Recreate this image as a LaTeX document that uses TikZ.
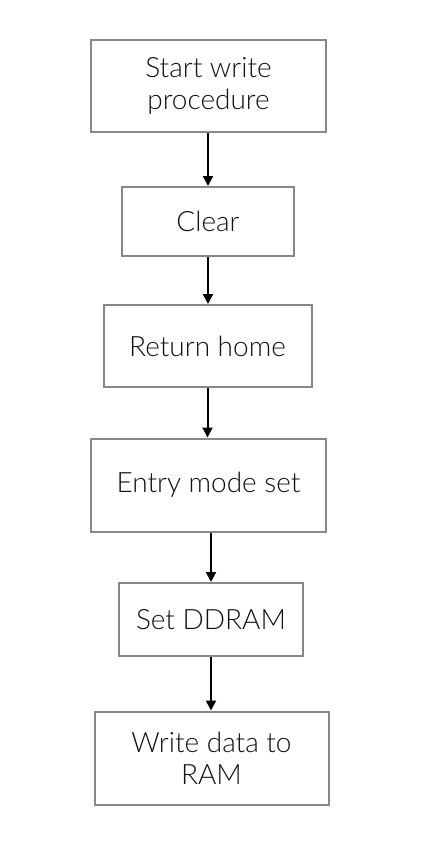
\documentclass[tikz,border=0pt]{standalone}
\usepackage{fontspec}
\setmainfont{Lato Light}
\usepackage{xcolor}
\usepackage{tikz}
\usetikzlibrary{positioning,arrows.meta}

\definecolor{boxgray}{HTML}{888888}
\definecolor{txt}{HTML}{111111}

\begin{document}
\begin{tikzpicture}[x=1pt,y=-1pt,
  box/.style={draw=boxgray, line width=2pt, text=txt, align=center, inner sep=0pt,
    font=\fontsize{28}{32}\selectfont},
  arr/.style={-{Triangle[length=10pt,width=10pt]}, line width=2pt, black}]
\useasboundingbox (0,0) rectangle (436,867);

% Boxes
\node[box, minimum width=235pt, minimum height=92pt] (S) at (208.5,86) {Start write\\procedure};
\node[box, minimum width=172pt, minimum height=69pt] (C) at (208,221.5) {Clear};
\node[box, minimum width=208pt, minimum height=82pt] (R) at (207.5,346) {Return home};
\node[box, minimum width=235pt, minimum height=93pt] (E) at (208.5,485) {Entry mode set};
\node[box, minimum width=184pt, minimum height=73pt] (D) at (211,619.5) {Set DDRAM};
\node[box, minimum width=234pt, minimum height=93pt] (W) at (211.5,758) {Write data to\\RAM};

% Arrows
\draw[arr] (S.south -| C.north) -- (C.north);
\draw[arr] (C.south) -- (R.north -| C.south);
\draw[arr] (R.south) -- (E.north -| R.south);
\draw[arr] (E.south -| D.north) -- (D.north);
\draw[arr] (D.south) -- (W.north -| D.south);
\end{tikzpicture}
\end{document}
